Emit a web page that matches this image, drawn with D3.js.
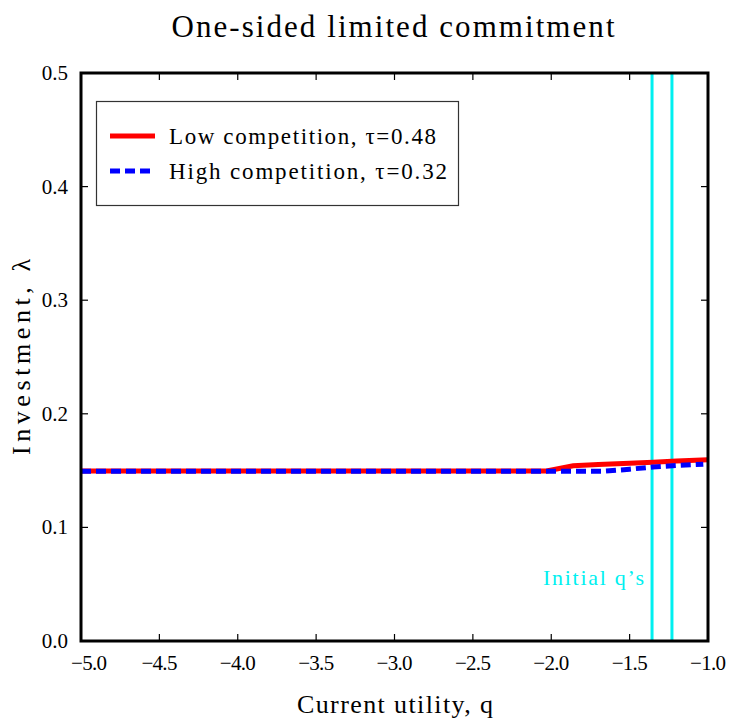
<!DOCTYPE html>
<html>
<head>
<meta charset="utf-8">
<script src="https://cdn.jsdelivr.net/npm/d3@7"></script>
<style>
  body { margin: 0; background: #fff; }
  text { font-family: "Liberation Serif", "DejaVu Serif", serif; }
</style>
</head>
<body>
<div id="chart"></div>
<script>
// data
var title = "One-sided limited commitment";
var xLabel = "Current utility, q";
var yLabel = "Investment, \u03bb";
var xTicks = [-5.0, -4.5, -4.0, -3.5, -3.0, -2.5, -2.0, -1.5, -1.0];
var yTicks = [0.0, 0.1, 0.2, 0.3, 0.4, 0.5];

var qLow  = [-5.0, -4.0, -3.0, -2.5, -2.03, -1.86, -1.7, -1.5, -1.35, -1.2, -1.0];
var lowComp = [0.1497, 0.1497, 0.1497, 0.1497, 0.1497, 0.1543, 0.1553, 0.1565, 0.1574, 0.1584, 0.1596];

var qHigh = [-5.0, -4.0, -3.0, -2.5, -2.0, -1.67, -1.5, -1.35, -1.2, -1.03];
var highComp = [0.1494, 0.1494, 0.1494, 0.1494, 0.1494, 0.1494, 0.1512, 0.1532, 0.1545, 0.1556];

var initialQ = [-1.357, -1.23];
var legendNames = ["Low competition, \u03c4=0.48", "High competition, \u03c4=0.32"];

var width = 732, height = 720;
var left_border = 81, right_border = 708, top_border = 73, bottom_border = 641;

var svg = d3.select("#chart").append("svg")
    .attr("width", width)
    .attr("height", height);

var x = d3.scaleLinear().domain([-5, -1]).range([left_border, right_border]);
var y = d3.scaleLinear().domain([0, 0.5]).range([bottom_border, top_border]);

// title
svg.append("text")
   .attr("x", 393).attr("y", 37)
   .attr("text-anchor", "middle")
   .style("font-size", "31px")
   .attr("textLength", 443).attr("lengthAdjust", "spacing")
   .text(title);

// tick marks on all four sides (inside)
var tickLen = 7;
svg.selectAll("xtickb").data(xTicks.slice(1, -1)).enter().append("line")
   .attr("x1", d => x(d)).attr("x2", d => x(d))
   .attr("y1", bottom_border).attr("y2", bottom_border - tickLen)
   .attr("stroke", "black").attr("stroke-width", 1.2);
svg.selectAll("xtickt").data(xTicks.slice(1, -1)).enter().append("line")
   .attr("x1", d => x(d)).attr("x2", d => x(d))
   .attr("y1", top_border).attr("y2", top_border + tickLen)
   .attr("stroke", "black").attr("stroke-width", 1.2);
svg.selectAll("ytickl").data(yTicks.slice(1, -1)).enter().append("line")
   .attr("y1", d => y(d)).attr("y2", d => y(d))
   .attr("x1", left_border).attr("x2", left_border + tickLen)
   .attr("stroke", "black").attr("stroke-width", 1.2);
svg.selectAll("ytickr").data(yTicks.slice(1, -1)).enter().append("line")
   .attr("y1", d => y(d)).attr("y2", d => y(d))
   .attr("x1", right_border).attr("x2", right_border - tickLen)
   .attr("stroke", "black").attr("stroke-width", 1.2);

// tick labels
svg.selectAll("xlab").data(xTicks).enter().append("text")
   .attr("x", (d, i) => i == 0 ? x(d) + 8 : x(d))
   .attr("y", 670)
   .attr("text-anchor", "middle")
   .style("font-size", "21px")
   .attr("textLength", 36).attr("lengthAdjust", "spacing")
   .text(d => d3.format(".1f")(d).replace("-", "\u2212"));
svg.selectAll("ylab").data(yTicks).enter().append("text")
   .attr("x", 68)
   .attr("y", d => y(d) + 7)
   .attr("text-anchor", "end")
   .style("font-size", "21px")
   .text(d => d3.format(".1f")(d));

// axis titles
svg.append("text")
   .attr("x", 395).attr("y", 713)
   .attr("text-anchor", "middle")
   .style("font-size", "26px")
   .attr("textLength", 196).attr("lengthAdjust", "spacing")
   .text(xLabel);
svg.append("text")
   .attr("transform", "translate(30,357) rotate(-90)")
   .attr("text-anchor", "middle")
   .style("font-size", "26px")
   .attr("textLength", 196).attr("lengthAdjust", "spacing")
   .text(yLabel);

// initial q's
svg.selectAll("initq").data(initialQ).enter().append("line")
   .attr("x1", d => x(d)).attr("x2", d => x(d))
   .attr("y1", top_border).attr("y2", bottom_border)
   .attr("stroke", "#00f0f0").attr("stroke-width", 3);
svg.append("text")
   .attr("x", 644).attr("y", 585)
   .attr("text-anchor", "end")
   .style("font-size", "22px")
   .style("fill", "#00f0f0")
   .attr("textLength", 101).attr("lengthAdjust", "spacing")
   .text("Initial q\u2019s");

// lines
var lineLow = d3.line().x((d, i) => x(qLow[i])).y(d => y(d));
var lineHigh = d3.line().x((d, i) => x(qHigh[i])).y(d => y(d));

var plot = svg.append("g");
plot.append("path")
   .attr("d", lineLow(lowComp))
   .attr("fill", "none")
   .attr("stroke", "#ff0000")
   .attr("stroke-width", 5);
plot.append("path")
   .attr("d", lineHigh(highComp))
   .attr("fill", "none")
   .attr("stroke", "#0000ff")
   .attr("stroke-width", 5)
   .attr("stroke-dasharray", "10,5");

// frame
svg.append("rect")
   .attr("x", left_border).attr("y", top_border)
   .attr("width", right_border - left_border)
   .attr("height", bottom_border - top_border)
   .attr("fill", "none")
   .attr("stroke", "black")
   .attr("stroke-width", 3);

// legend
var legend = svg.append("g");
legend.append("rect")
   .attr("x", 96.5).attr("y", 101.5)
   .attr("width", 362).attr("height", 104)
   .attr("fill", "white")
   .attr("stroke", "#333")
   .attr("stroke-width", 1.2);
var legColors = ["#ff0000", "#0000ff"];
var legDash = [null, "10,5"];
legend.selectAll("legline").data(legendNames).enter().append("line")
   .attr("x1", 110).attr("x2", 155)
   .attr("y1", (d, i) => 136 + i * 35).attr("y2", (d, i) => 136 + i * 35)
   .attr("stroke", (d, i) => legColors[i])
   .attr("stroke-width", 5)
   .attr("stroke-dasharray", (d, i) => legDash[i]);
legend.selectAll("legtext").data(legendNames).enter().append("text")
   .attr("x", 169)
   .attr("y", (d, i) => 144 + i * 35)
   .style("font-size", "23px")
   .attr("textLength", (d, i) => i == 0 ? 267 : 278)
   .attr("lengthAdjust", "spacing")
   .text(d => d);
</script>
</body>
</html>
